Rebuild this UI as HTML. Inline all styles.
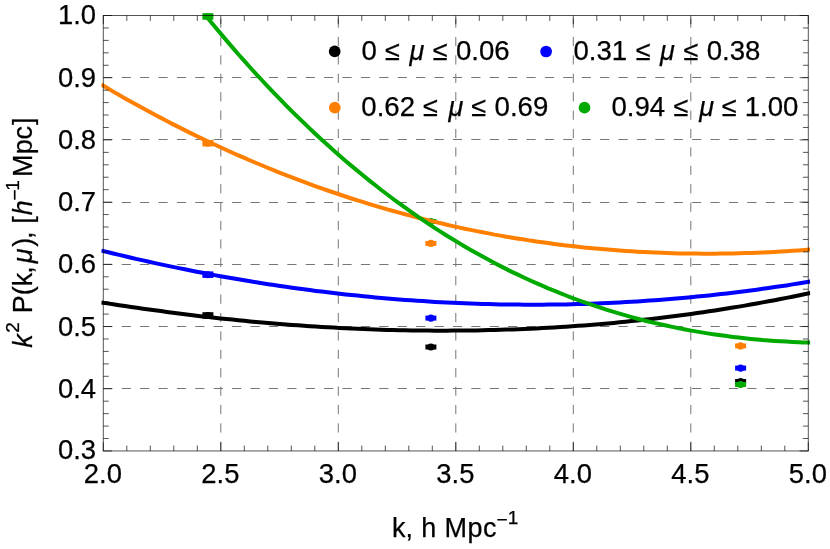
<!DOCTYPE html>
<html><head><meta charset="utf-8"><title>plot</title>
<style>
html,body{margin:0;padding:0;background:#fff;}
body{width:830px;height:549px;overflow:hidden;}
svg{display:block;will-change:transform;}
text{font-family:"Liberation Sans",sans-serif;fill:#000;stroke:#000;stroke-width:0.25px;}
.i{font-style:italic;}
</style></head><body>
<svg width="830" height="549" viewBox="0 0 830 549">
<rect width="830" height="549" fill="#fff"/>
<g stroke="#767676" stroke-width="1" stroke-dasharray="9.2 9.2" fill="none"><line x1="103.3" y1="388.50" x2="808.3" y2="388.50"/><line x1="103.3" y1="326.50" x2="808.3" y2="326.50"/><line x1="103.3" y1="264.50" x2="808.3" y2="264.50"/><line x1="103.3" y1="202.50" x2="808.3" y2="202.50"/><line x1="103.3" y1="139.50" x2="808.3" y2="139.50"/><line x1="103.3" y1="77.50" x2="808.3" y2="77.50"/><line x1="220.80" y1="450.95" x2="220.80" y2="15.5"/><line x1="338.30" y1="450.95" x2="338.30" y2="15.5"/><line x1="455.80" y1="450.95" x2="455.80" y2="15.5"/><line x1="573.30" y1="450.95" x2="573.30" y2="15.5"/><line x1="690.80" y1="450.95" x2="690.80" y2="15.5"/></g>
<g><rect x="202.4" y="312.2" width="11" height="6.5" fill="#000000"/><circle cx="207.9" cy="315.5" r="3.5" fill="#000000"/><rect x="425.4" y="344.5" width="11" height="5" fill="#000000"/><circle cx="430.9" cy="347.0" r="3.6" fill="#000000"/><rect x="735.1" y="379.0" width="11" height="5" fill="#000000"/><circle cx="740.6" cy="381.5" r="3.6" fill="#000000"/><rect x="202.4" y="271.4" width="11" height="6.5" fill="#0000ff"/><circle cx="207.9" cy="274.7" r="3.5" fill="#0000ff"/><rect x="425.4" y="315.6" width="11" height="5" fill="#0000ff"/><circle cx="430.9" cy="318.1" r="3.6" fill="#0000ff"/><rect x="735.1" y="365.6" width="11" height="5" fill="#0000ff"/><circle cx="740.6" cy="368.1" r="3.6" fill="#0000ff"/><rect x="202.4" y="139.9" width="11" height="6.5" fill="#ff8000"/><circle cx="207.9" cy="143.2" r="3.5" fill="#ff8000"/><rect x="425.4" y="240.9" width="11" height="5" fill="#ff8000"/><circle cx="430.9" cy="243.4" r="3.6" fill="#ff8000"/><rect x="735.1" y="343.4" width="11" height="5" fill="#ff8000"/><circle cx="740.6" cy="345.9" r="3.6" fill="#ff8000"/><rect x="202.4" y="13.2" width="11" height="6.5" fill="#00aa00"/><circle cx="207.9" cy="16.5" r="3.5" fill="#00aa00"/><rect x="425.4" y="219.0" width="11" height="5" fill="#00aa00"/><circle cx="430.9" cy="221.5" r="3.6" fill="#00aa00"/><rect x="735.1" y="382.0" width="11" height="5" fill="#00aa00"/><circle cx="740.6" cy="384.5" r="3.6" fill="#00aa00"/></g>
<defs><clipPath id="c"><rect x="101.3" y="15.5" width="709.0" height="435.45"/></clipPath></defs>
<g fill="none" stroke-width="4.0" stroke-linejoin="round" clip-path="url(#c)"><path d="M101.3,302.4 L107.3,303.4 L113.2,304.3 L119.2,305.2 L125.1,306.1 L131.1,307.0 L137.0,307.8 L143.0,308.7 L149.0,309.5 L154.9,310.3 L160.9,311.1 L166.8,311.9 L172.8,312.7 L178.8,313.5 L184.7,314.2 L190.7,314.9 L196.6,315.7 L202.6,316.4 L208.5,317.0 L214.5,317.7 L220.5,318.4 L226.4,319.0 L232.4,319.6 L238.3,320.2 L244.3,320.8 L250.2,321.4 L256.2,321.9 L262.2,322.5 L268.1,323.0 L274.1,323.5 L280.0,324.0 L286.0,324.4 L292.0,324.9 L297.9,325.3 L303.9,325.8 L309.8,326.2 L315.8,326.5 L321.7,326.9 L327.7,327.3 L333.7,327.6 L339.6,327.9 L345.6,328.2 L351.5,328.5 L357.5,328.8 L363.5,329.0 L369.4,329.3 L375.4,329.5 L381.3,329.7 L387.3,329.9 L393.2,330.0 L399.2,330.2 L405.2,330.3 L411.1,330.4 L417.1,330.5 L423.0,330.6 L429.0,330.6 L434.9,330.7 L440.9,330.7 L446.9,330.7 L452.8,330.6 L458.8,330.6 L464.7,330.6 L470.7,330.5 L476.7,330.4 L482.6,330.3 L488.6,330.1 L494.5,330.0 L500.5,329.8 L506.4,329.6 L512.4,329.4 L518.4,329.2 L524.3,328.9 L530.3,328.7 L536.2,328.4 L542.2,328.1 L548.1,327.8 L554.1,327.4 L560.1,327.0 L566.0,326.7 L572.0,326.3 L577.9,325.8 L583.9,325.4 L589.9,324.9 L595.8,324.4 L601.8,323.9 L607.7,323.4 L613.7,322.9 L619.6,322.3 L625.6,321.7 L631.6,321.1 L637.5,320.5 L643.5,319.8 L649.4,319.2 L655.4,318.5 L661.4,317.8 L667.3,317.0 L673.3,316.3 L679.2,315.5 L685.2,314.7 L691.1,313.9 L697.1,313.0 L703.1,312.2 L709.0,311.3 L715.0,310.4 L720.9,309.5 L726.9,308.5 L732.8,307.6 L738.8,306.6 L744.8,305.6 L750.7,304.5 L756.7,303.5 L762.6,302.4 L768.6,301.3 L774.6,300.2 L780.5,299.0 L786.5,297.9 L792.4,296.7 L798.4,295.5 L804.3,294.2 L810.3,293.0" stroke="#000000"/>
<path d="M101.3,250.6 L107.3,252.0 L113.2,253.5 L119.2,254.9 L125.1,256.3 L131.1,257.7 L137.0,259.1 L143.0,260.4 L149.0,261.8 L154.9,263.1 L160.9,264.4 L166.8,265.6 L172.8,266.9 L178.8,268.1 L184.7,269.3 L190.7,270.5 L196.6,271.7 L202.6,272.8 L208.5,274.0 L214.5,275.1 L220.5,276.2 L226.4,277.2 L232.4,278.3 L238.3,279.3 L244.3,280.3 L250.2,281.3 L256.2,282.3 L262.2,283.2 L268.1,284.2 L274.1,285.1 L280.0,286.0 L286.0,286.8 L292.0,287.7 L297.9,288.5 L303.9,289.3 L309.8,290.1 L315.8,290.9 L321.7,291.6 L327.7,292.3 L333.7,293.0 L339.6,293.7 L345.6,294.4 L351.5,295.0 L357.5,295.6 L363.5,296.2 L369.4,296.8 L375.4,297.4 L381.3,297.9 L387.3,298.5 L393.2,299.0 L399.2,299.4 L405.2,299.9 L411.1,300.3 L417.1,300.7 L423.0,301.1 L429.0,301.5 L434.9,301.9 L440.9,302.2 L446.9,302.5 L452.8,302.8 L458.8,303.1 L464.7,303.3 L470.7,303.6 L476.7,303.8 L482.6,303.9 L488.6,304.1 L494.5,304.3 L500.5,304.4 L506.4,304.5 L512.4,304.6 L518.4,304.6 L524.3,304.7 L530.3,304.7 L536.2,304.7 L542.2,304.7 L548.1,304.6 L554.1,304.6 L560.1,304.5 L566.0,304.4 L572.0,304.2 L577.9,304.1 L583.9,303.9 L589.9,303.7 L595.8,303.5 L601.8,303.3 L607.7,303.0 L613.7,302.7 L619.6,302.4 L625.6,302.1 L631.6,301.8 L637.5,301.4 L643.5,301.0 L649.4,300.6 L655.4,300.2 L661.4,299.8 L667.3,299.3 L673.3,298.8 L679.2,298.3 L685.2,297.8 L691.1,297.2 L697.1,296.6 L703.1,296.0 L709.0,295.4 L715.0,294.8 L720.9,294.1 L726.9,293.4 L732.8,292.7 L738.8,292.0 L744.8,291.2 L750.7,290.5 L756.7,289.7 L762.6,288.8 L768.6,288.0 L774.6,287.1 L780.5,286.3 L786.5,285.4 L792.4,284.4 L798.4,283.5 L804.3,282.5 L810.3,281.5" stroke="#0000ff"/>
<path d="M101.3,84.6 L107.3,88.1 L113.2,91.6 L119.2,95.0 L125.1,98.4 L131.1,101.8 L137.0,105.1 L143.0,108.3 L149.0,111.6 L154.9,114.8 L160.9,117.9 L166.8,121.0 L172.8,124.1 L178.8,127.1 L184.7,130.1 L190.7,133.1 L196.6,136.0 L202.6,138.9 L208.5,141.7 L214.5,144.5 L220.5,147.3 L226.4,150.0 L232.4,152.7 L238.3,155.3 L244.3,157.9 L250.2,160.5 L256.2,163.0 L262.2,165.5 L268.1,168.0 L274.1,170.4 L280.0,172.8 L286.0,175.1 L292.0,177.4 L297.9,179.7 L303.9,181.9 L309.8,184.1 L315.8,186.3 L321.7,188.4 L327.7,190.5 L333.7,192.5 L339.6,194.5 L345.6,196.5 L351.5,198.5 L357.5,200.4 L363.5,202.2 L369.4,204.1 L375.4,205.9 L381.3,207.6 L387.3,209.4 L393.2,211.0 L399.2,212.7 L405.2,214.3 L411.1,215.9 L417.1,217.5 L423.0,219.0 L429.0,220.5 L434.9,221.9 L440.9,223.3 L446.9,224.7 L452.8,226.1 L458.8,227.4 L464.7,228.7 L470.7,229.9 L476.7,231.1 L482.6,232.3 L488.6,233.4 L494.5,234.6 L500.5,235.6 L506.4,236.7 L512.4,237.7 L518.4,238.7 L524.3,239.6 L530.3,240.6 L536.2,241.4 L542.2,242.3 L548.1,243.1 L554.1,243.9 L560.1,244.7 L566.0,245.4 L572.0,246.1 L577.9,246.7 L583.9,247.4 L589.9,248.0 L595.8,248.6 L601.8,249.1 L607.7,249.6 L613.7,250.1 L619.6,250.5 L625.6,250.9 L631.6,251.3 L637.5,251.7 L643.5,252.0 L649.4,252.3 L655.4,252.6 L661.4,252.8 L667.3,253.0 L673.3,253.2 L679.2,253.4 L685.2,253.5 L691.1,253.6 L697.1,253.6 L703.1,253.7 L709.0,253.7 L715.0,253.7 L720.9,253.6 L726.9,253.5 L732.8,253.4 L738.8,253.3 L744.8,253.1 L750.7,252.9 L756.7,252.7 L762.6,252.5 L768.6,252.2 L774.6,251.9 L780.5,251.6 L786.5,251.2 L792.4,250.8 L798.4,250.4 L804.3,250.0 L810.3,249.5" stroke="#ff8000"/>
<path d="M101.3,-128.8 L107.3,-119.7 L113.2,-110.6 L119.2,-101.7 L125.1,-92.9 L131.1,-84.2 L137.0,-75.7 L143.0,-67.2 L149.0,-58.8 L154.9,-50.6 L160.9,-42.4 L166.8,-34.4 L172.8,-26.4 L178.8,-18.6 L184.7,-10.8 L190.7,-3.2 L196.6,4.3 L202.6,11.7 L208.5,19.1 L214.5,26.3 L220.5,33.4 L226.4,40.4 L232.4,47.4 L238.3,54.2 L244.3,60.9 L250.2,67.5 L256.2,74.1 L262.2,80.5 L268.1,86.8 L274.1,93.1 L280.0,99.2 L286.0,105.3 L292.0,111.3 L297.9,117.1 L303.9,122.9 L309.8,128.6 L315.8,134.2 L321.7,139.7 L327.7,145.1 L333.7,150.5 L339.6,155.7 L345.6,160.9 L351.5,165.9 L357.5,170.9 L363.5,175.8 L369.4,180.6 L375.4,185.3 L381.3,190.0 L387.3,194.5 L393.2,199.0 L399.2,203.4 L405.2,207.7 L411.1,211.9 L417.1,216.1 L423.0,220.2 L429.0,224.2 L434.9,228.1 L440.9,231.9 L446.9,235.7 L452.8,239.3 L458.8,242.9 L464.7,246.5 L470.7,249.9 L476.7,253.3 L482.6,256.6 L488.6,259.8 L494.5,263.0 L500.5,266.1 L506.4,269.1 L512.4,272.1 L518.4,274.9 L524.3,277.7 L530.3,280.5 L536.2,283.1 L542.2,285.7 L548.1,288.3 L554.1,290.7 L560.1,293.2 L566.0,295.5 L572.0,297.8 L577.9,300.0 L583.9,302.1 L589.9,304.2 L595.8,306.2 L601.8,308.2 L607.7,310.1 L613.7,311.9 L619.6,313.7 L625.6,315.4 L631.6,317.1 L637.5,318.7 L643.5,320.2 L649.4,321.7 L655.4,323.1 L661.4,324.5 L667.3,325.8 L673.3,327.1 L679.2,328.3 L685.2,329.5 L691.1,330.6 L697.1,331.6 L703.1,332.6 L709.0,333.6 L715.0,334.5 L720.9,335.3 L726.9,336.1 L732.8,336.9 L738.8,337.6 L744.8,338.3 L750.7,338.9 L756.7,339.4 L762.6,340.0 L768.6,340.4 L774.6,340.9 L780.5,341.3 L786.5,341.6 L792.4,341.9 L798.4,342.2 L804.3,342.4 L810.3,342.6" stroke="#00aa00"/></g>
<g stroke="#000" stroke-opacity="0.67" stroke-width="1" fill="none"><rect x="103.3" y="15.5" width="705.00" height="435.45" fill="none"/><line x1="103.30" y1="450.95" x2="103.30" y2="442.25"/><line x1="103.30" y1="15.5" x2="103.30" y2="24.20"/><line x1="126.80" y1="450.95" x2="126.80" y2="445.55"/><line x1="126.80" y1="15.5" x2="126.80" y2="20.90"/><line x1="150.30" y1="450.95" x2="150.30" y2="445.55"/><line x1="150.30" y1="15.5" x2="150.30" y2="20.90"/><line x1="173.80" y1="450.95" x2="173.80" y2="445.55"/><line x1="173.80" y1="15.5" x2="173.80" y2="20.90"/><line x1="197.30" y1="450.95" x2="197.30" y2="445.55"/><line x1="197.30" y1="15.5" x2="197.30" y2="20.90"/><line x1="220.80" y1="450.95" x2="220.80" y2="442.25"/><line x1="220.80" y1="15.5" x2="220.80" y2="24.20"/><line x1="244.30" y1="450.95" x2="244.30" y2="445.55"/><line x1="244.30" y1="15.5" x2="244.30" y2="20.90"/><line x1="267.80" y1="450.95" x2="267.80" y2="445.55"/><line x1="267.80" y1="15.5" x2="267.80" y2="20.90"/><line x1="291.30" y1="450.95" x2="291.30" y2="445.55"/><line x1="291.30" y1="15.5" x2="291.30" y2="20.90"/><line x1="314.80" y1="450.95" x2="314.80" y2="445.55"/><line x1="314.80" y1="15.5" x2="314.80" y2="20.90"/><line x1="338.30" y1="450.95" x2="338.30" y2="442.25"/><line x1="338.30" y1="15.5" x2="338.30" y2="24.20"/><line x1="361.80" y1="450.95" x2="361.80" y2="445.55"/><line x1="361.80" y1="15.5" x2="361.80" y2="20.90"/><line x1="385.30" y1="450.95" x2="385.30" y2="445.55"/><line x1="385.30" y1="15.5" x2="385.30" y2="20.90"/><line x1="408.80" y1="450.95" x2="408.80" y2="445.55"/><line x1="408.80" y1="15.5" x2="408.80" y2="20.90"/><line x1="432.30" y1="450.95" x2="432.30" y2="445.55"/><line x1="432.30" y1="15.5" x2="432.30" y2="20.90"/><line x1="455.80" y1="450.95" x2="455.80" y2="442.25"/><line x1="455.80" y1="15.5" x2="455.80" y2="24.20"/><line x1="479.30" y1="450.95" x2="479.30" y2="445.55"/><line x1="479.30" y1="15.5" x2="479.30" y2="20.90"/><line x1="502.80" y1="450.95" x2="502.80" y2="445.55"/><line x1="502.80" y1="15.5" x2="502.80" y2="20.90"/><line x1="526.30" y1="450.95" x2="526.30" y2="445.55"/><line x1="526.30" y1="15.5" x2="526.30" y2="20.90"/><line x1="549.80" y1="450.95" x2="549.80" y2="445.55"/><line x1="549.80" y1="15.5" x2="549.80" y2="20.90"/><line x1="573.30" y1="450.95" x2="573.30" y2="442.25"/><line x1="573.30" y1="15.5" x2="573.30" y2="24.20"/><line x1="596.80" y1="450.95" x2="596.80" y2="445.55"/><line x1="596.80" y1="15.5" x2="596.80" y2="20.90"/><line x1="620.30" y1="450.95" x2="620.30" y2="445.55"/><line x1="620.30" y1="15.5" x2="620.30" y2="20.90"/><line x1="643.80" y1="450.95" x2="643.80" y2="445.55"/><line x1="643.80" y1="15.5" x2="643.80" y2="20.90"/><line x1="667.30" y1="450.95" x2="667.30" y2="445.55"/><line x1="667.30" y1="15.5" x2="667.30" y2="20.90"/><line x1="690.80" y1="450.95" x2="690.80" y2="442.25"/><line x1="690.80" y1="15.5" x2="690.80" y2="24.20"/><line x1="714.30" y1="450.95" x2="714.30" y2="445.55"/><line x1="714.30" y1="15.5" x2="714.30" y2="20.90"/><line x1="737.80" y1="450.95" x2="737.80" y2="445.55"/><line x1="737.80" y1="15.5" x2="737.80" y2="20.90"/><line x1="761.30" y1="450.95" x2="761.30" y2="445.55"/><line x1="761.30" y1="15.5" x2="761.30" y2="20.90"/><line x1="784.80" y1="450.95" x2="784.80" y2="445.55"/><line x1="784.80" y1="15.5" x2="784.80" y2="20.90"/><line x1="808.30" y1="450.95" x2="808.30" y2="442.25"/><line x1="808.30" y1="15.5" x2="808.30" y2="24.20"/><line x1="103.3" y1="450.95" x2="112.00" y2="450.95"/><line x1="808.3" y1="450.95" x2="799.60" y2="450.95"/><line x1="103.3" y1="438.51" x2="108.70" y2="438.51"/><line x1="808.3" y1="438.51" x2="802.90" y2="438.51"/><line x1="103.3" y1="426.07" x2="108.70" y2="426.07"/><line x1="808.3" y1="426.07" x2="802.90" y2="426.07"/><line x1="103.3" y1="413.63" x2="108.70" y2="413.63"/><line x1="808.3" y1="413.63" x2="802.90" y2="413.63"/><line x1="103.3" y1="401.18" x2="108.70" y2="401.18"/><line x1="808.3" y1="401.18" x2="802.90" y2="401.18"/><line x1="103.3" y1="388.74" x2="112.00" y2="388.74"/><line x1="808.3" y1="388.74" x2="799.60" y2="388.74"/><line x1="103.3" y1="376.30" x2="108.70" y2="376.30"/><line x1="808.3" y1="376.30" x2="802.90" y2="376.30"/><line x1="103.3" y1="363.86" x2="108.70" y2="363.86"/><line x1="808.3" y1="363.86" x2="802.90" y2="363.86"/><line x1="103.3" y1="351.42" x2="108.70" y2="351.42"/><line x1="808.3" y1="351.42" x2="802.90" y2="351.42"/><line x1="103.3" y1="338.98" x2="108.70" y2="338.98"/><line x1="808.3" y1="338.98" x2="802.90" y2="338.98"/><line x1="103.3" y1="326.54" x2="112.00" y2="326.54"/><line x1="808.3" y1="326.54" x2="799.60" y2="326.54"/><line x1="103.3" y1="314.09" x2="108.70" y2="314.09"/><line x1="808.3" y1="314.09" x2="802.90" y2="314.09"/><line x1="103.3" y1="301.65" x2="108.70" y2="301.65"/><line x1="808.3" y1="301.65" x2="802.90" y2="301.65"/><line x1="103.3" y1="289.21" x2="108.70" y2="289.21"/><line x1="808.3" y1="289.21" x2="802.90" y2="289.21"/><line x1="103.3" y1="276.77" x2="108.70" y2="276.77"/><line x1="808.3" y1="276.77" x2="802.90" y2="276.77"/><line x1="103.3" y1="264.33" x2="112.00" y2="264.33"/><line x1="808.3" y1="264.33" x2="799.60" y2="264.33"/><line x1="103.3" y1="251.89" x2="108.70" y2="251.89"/><line x1="808.3" y1="251.89" x2="802.90" y2="251.89"/><line x1="103.3" y1="239.45" x2="108.70" y2="239.45"/><line x1="808.3" y1="239.45" x2="802.90" y2="239.45"/><line x1="103.3" y1="227.00" x2="108.70" y2="227.00"/><line x1="808.3" y1="227.00" x2="802.90" y2="227.00"/><line x1="103.3" y1="214.56" x2="108.70" y2="214.56"/><line x1="808.3" y1="214.56" x2="802.90" y2="214.56"/><line x1="103.3" y1="202.12" x2="112.00" y2="202.12"/><line x1="808.3" y1="202.12" x2="799.60" y2="202.12"/><line x1="103.3" y1="189.68" x2="108.70" y2="189.68"/><line x1="808.3" y1="189.68" x2="802.90" y2="189.68"/><line x1="103.3" y1="177.24" x2="108.70" y2="177.24"/><line x1="808.3" y1="177.24" x2="802.90" y2="177.24"/><line x1="103.3" y1="164.80" x2="108.70" y2="164.80"/><line x1="808.3" y1="164.80" x2="802.90" y2="164.80"/><line x1="103.3" y1="152.36" x2="108.70" y2="152.36"/><line x1="808.3" y1="152.36" x2="802.90" y2="152.36"/><line x1="103.3" y1="139.91" x2="112.00" y2="139.91"/><line x1="808.3" y1="139.91" x2="799.60" y2="139.91"/><line x1="103.3" y1="127.47" x2="108.70" y2="127.47"/><line x1="808.3" y1="127.47" x2="802.90" y2="127.47"/><line x1="103.3" y1="115.03" x2="108.70" y2="115.03"/><line x1="808.3" y1="115.03" x2="802.90" y2="115.03"/><line x1="103.3" y1="102.59" x2="108.70" y2="102.59"/><line x1="808.3" y1="102.59" x2="802.90" y2="102.59"/><line x1="103.3" y1="90.15" x2="108.70" y2="90.15"/><line x1="808.3" y1="90.15" x2="802.90" y2="90.15"/><line x1="103.3" y1="77.71" x2="112.00" y2="77.71"/><line x1="808.3" y1="77.71" x2="799.60" y2="77.71"/><line x1="103.3" y1="65.27" x2="108.70" y2="65.27"/><line x1="808.3" y1="65.27" x2="802.90" y2="65.27"/><line x1="103.3" y1="52.82" x2="108.70" y2="52.82"/><line x1="808.3" y1="52.82" x2="802.90" y2="52.82"/><line x1="103.3" y1="40.38" x2="108.70" y2="40.38"/><line x1="808.3" y1="40.38" x2="802.90" y2="40.38"/><line x1="103.3" y1="27.94" x2="108.70" y2="27.94"/><line x1="808.3" y1="27.94" x2="802.90" y2="27.94"/><line x1="103.3" y1="15.50" x2="112.00" y2="15.50"/><line x1="808.3" y1="15.50" x2="799.60" y2="15.50"/></g>
<g font-size="27.4"><text x="96.10" y="459.35" text-anchor="end">0.3</text><text x="96.10" y="397.74" text-anchor="end">0.4</text><text x="96.10" y="335.54" text-anchor="end">0.5</text><text x="96.10" y="273.33" text-anchor="end">0.6</text><text x="96.10" y="211.12" text-anchor="end">0.7</text><text x="96.10" y="148.91" text-anchor="end">0.8</text><text x="96.10" y="86.71" text-anchor="end">0.9</text><text x="96.10" y="23.90" text-anchor="end">1.0</text><text x="102.90" y="482.8" text-anchor="middle">2.0</text><text x="220.40" y="482.8" text-anchor="middle">2.5</text><text x="337.90" y="482.8" text-anchor="middle">3.0</text><text x="455.40" y="482.8" text-anchor="middle">3.5</text><text x="572.90" y="482.8" text-anchor="middle">4.0</text><text x="690.40" y="482.8" text-anchor="middle">4.5</text><text x="807.90" y="482.8" text-anchor="middle">5.0</text></g>
<text y="537.0" font-size="27"><tspan x="391.88">k,</tspan><tspan x="421.13">h</tspan><tspan x="444.59" letter-spacing="0.45">Mpc</tspan><tspan x="496.56" y="525.9" font-size="19">−</tspan><tspan y="524.4" font-size="19">1</tspan></text>
<text transform="translate(31.8,350.0) rotate(-90)" font-size="27"><tspan x="2.36" y="0" class="i">k</tspan><tspan x="17.22" y="-12.8" font-size="19">2</tspan><tspan x="36.80" y="0">P</tspan><tspan x="54.70" y="0">(</tspan><tspan x="63.72" y="0">k</tspan><tspan x="76.25" y="0">,</tspan><tspan x="86.70" y="0" class="i">μ</tspan><tspan x="103.21" y="0">)</tspan><tspan x="110.90" y="0">,</tspan><tspan x="126.24" y="0">[</tspan><tspan x="134.89" y="0" class="i">h</tspan><tspan x="149.60" y="-11.0" font-size="19">−</tspan><tspan x="159.36" y="-12.8" font-size="19">1</tspan><tspan x="173.00" y="0">M</tspan><tspan x="195.79" y="0">p</tspan><tspan x="210.53" y="0">c</tspan><tspan x="225.11" y="0">]</tspan></text>
<circle cx="334.7" cy="51.4" r="5.85" fill="#000000"/><text y="59.8" font-size="27"><tspan x="361.52" font-size="27.6">0</tspan><tspan x="384.97">≤</tspan><tspan x="409.47" class="i">μ</tspan><tspan x="432.67">≤</tspan><tspan x="456.02" font-size="27.6">0.06</tspan></text>
<circle cx="546.1" cy="51.5" r="5.85" fill="#0000ff"/><text y="59.8" font-size="27"><tspan x="573.42" font-size="27.6">0.31</tspan><tspan x="635.87">≤</tspan><tspan x="659.97" class="i">μ</tspan><tspan x="683.47">≤</tspan><tspan x="706.72" font-size="27.6">0.38</tspan></text>
<circle cx="334.8" cy="107.7" r="5.85" fill="#ff8000"/><text y="115.7" font-size="27"><tspan x="361.32" font-size="27.6">0.62</tspan><tspan x="422.97">≤</tspan><tspan x="448.47" class="i">μ</tspan><tspan x="471.27">≤</tspan><tspan x="494.62" font-size="27.6">0.69</tspan></text>
<circle cx="584.5" cy="107.7" r="5.85" fill="#00aa00"/><text y="115.7" font-size="27"><tspan x="611.52" font-size="27.6">0.94</tspan><tspan x="673.57">≤</tspan><tspan x="699.27" class="i">μ</tspan><tspan x="721.67">≤</tspan><tspan x="744.70" font-size="27.6">1.00</tspan></text>
</svg>
</body></html>
